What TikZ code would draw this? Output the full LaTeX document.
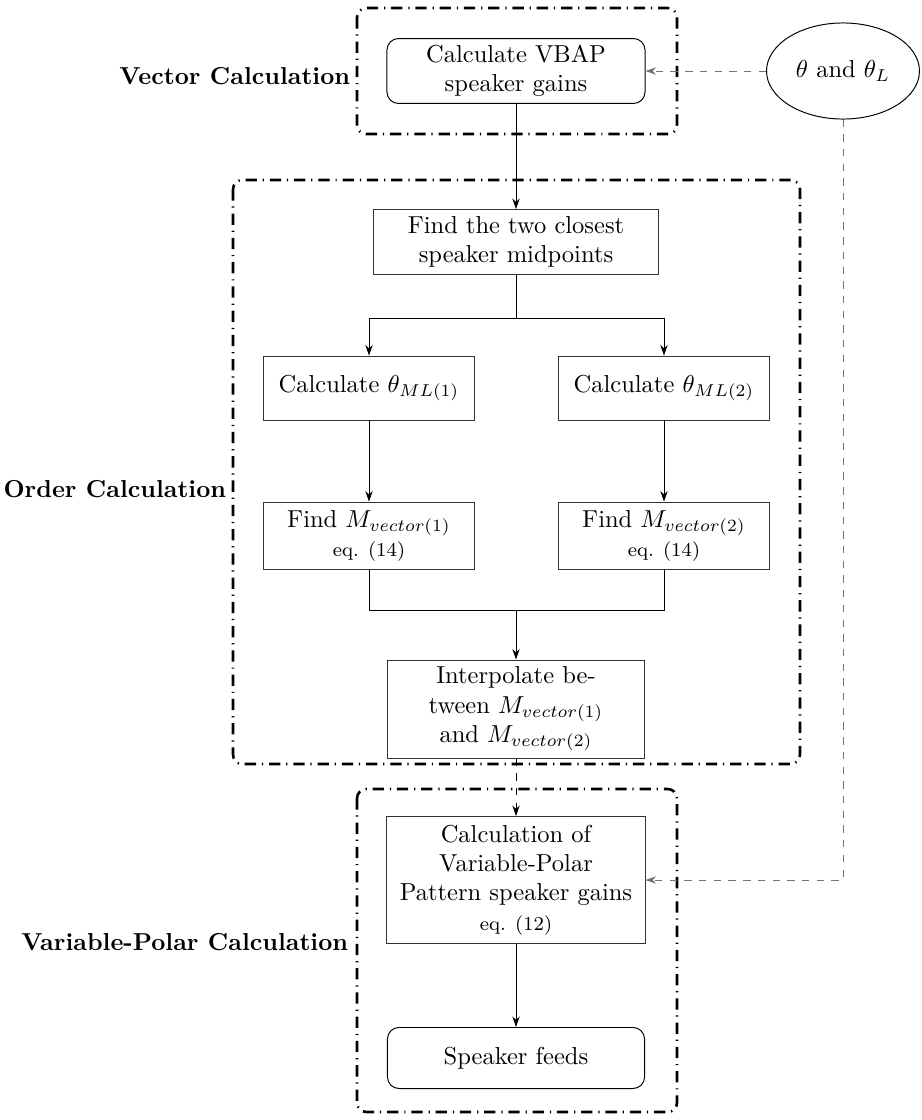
\documentclass[tikz,border=0pt]{standalone}
\usetikzlibrary{arrows.meta,shapes.geometric}
\begin{document}
\begin{tikzpicture}[x=0.408pt,y=-0.408pt,
  arr/.style={-{Stealth[length=4.3pt,width=3pt]}},
  gdash/.style={draw=black!55, dashed, arr},
  sqbox/.style={draw=black!80, align=center, inner sep=2pt},
  rbox/.style={draw, rounded corners=4.7pt, align=center, inner sep=2pt},
  group/.style={draw, line width=1.05pt, rounded corners=3.8pt, dash pattern=on 4.6pt off 2.4pt on 0.5pt off 2.4pt},
  glabel/.style={font=\bfseries, anchor=east, inner sep=1pt}
]
\useasboundingbox (0,0) rectangle (922,1120);
% groups
\draw[group] (357,8) rectangle (677,134);
\draw[group] (233,180) rectangle (800,764);
\draw[group] (357,789) rectangle (677,1112);
\node[glabel] (gv) at (353,76) {Vector Calculation};
\node[glabel] (go) at (229,489) {Order Calculation};
\node[glabel] (gp) at (351,942) {Variable-Polar Calculation};
% nodes
\node[rbox, minimum width=105.3pt, minimum height=26.5pt] (vbap) at (516,71) {Calculate VBAP\\speaker gains};
\node[draw, ellipse, minimum width=62.4pt, minimum height=39.2pt, inner sep=1pt] (theta) at (843,71) {$\theta$ and $\theta_L$};
\node[sqbox, minimum width=115.9pt, minimum height=26.5pt] (find) at (516,242) {Find the two closest\\speaker midpoints};
\node[sqbox, minimum width=86.1pt, minimum height=26.1pt] (c1) at (369,388) {Calculate $\theta_{ML(1)}$};
\node[sqbox, minimum width=86.1pt, minimum height=26.1pt] (c2) at (664,388) {Calculate $\theta_{ML(2)}$};
\node[sqbox, minimum width=86.1pt, minimum height=27.7pt] (m1) at (369,536) {Find $M_{vector(1)}$\\{\footnotesize eq. (14)}};
\node[sqbox, minimum width=86.1pt, minimum height=27.7pt] (m2) at (664,536) {Find $M_{vector(2)}$\\{\footnotesize eq. (14)}};
\node[sqbox, minimum width=104.9pt, minimum height=40pt] (interp) at (516,709) {Interpolate be-\\tween $M_{vector(1)}$\\and $M_{vector(2)}$};
\node[sqbox, minimum width=105.3pt, minimum height=51.8pt] (vp) at (516,880) {Calculation of\\Variable-Polar\\Pattern speaker gains\\{\footnotesize eq. (12)}};
\node[rbox, minimum width=104.9pt, minimum height=24.9pt] (feeds) at (516,1058) {Speaker feeds};
\coordinate (split) at (516,318);
\coordinate (merge) at (516,610);
% connectors
\draw[arr] (vbap) -- (find);
\draw[arr] (find.south) -- (split) -| (c1.north);
\draw[arr] (split) -| (c2.north);
\draw[arr] (c1) -- (m1);
\draw[arr] (c2) -- (m2);
\draw (m1.south) |- (merge);
\draw (m2.south) |- (merge);
\draw[arr] (merge) -- (interp);
\draw[dashed, arr] (interp) -- (vp);
\draw[arr] (vp) -- (feeds);
\draw[gdash] (theta) -- (vbap);
\draw[gdash] (theta.south) |- (vp.east);
\end{tikzpicture}
\end{document}
